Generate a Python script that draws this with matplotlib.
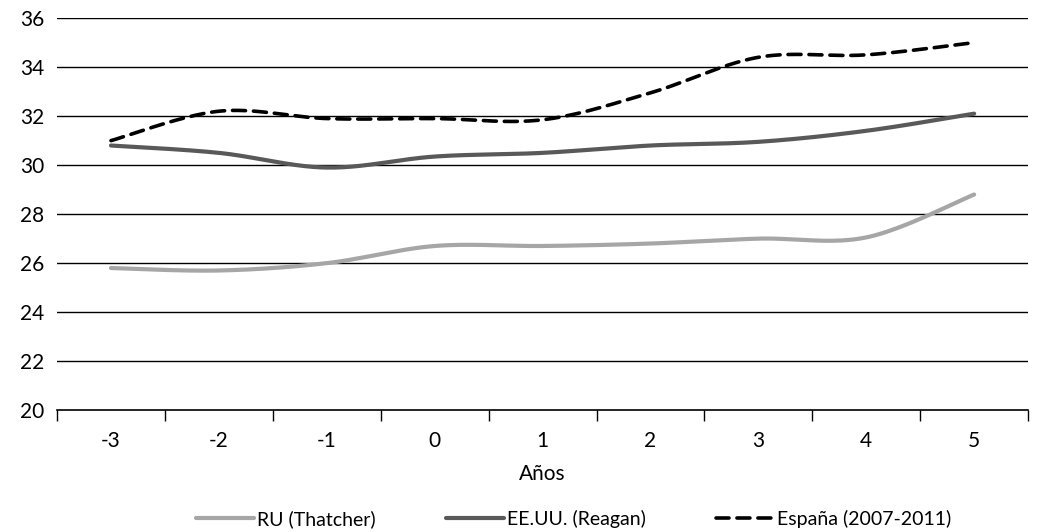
import numpy as np
import matplotlib
matplotlib.use("Agg")
import matplotlib.pyplot as plt

# datos
anios = ["-3", "-2", "-1", "0", "1", "2", "3", "4", "5"]
ru_thatcher = [25.8, 25.7, 26.0, 26.7, 26.7, 26.8, 27.0, 27.05, 28.8]
eeuu_reagan = [30.8, 30.5, 29.9, 30.35, 30.5, 30.8, 30.95, 31.4, 32.1]
espana = [31.0, 32.2, 31.9, 31.9, 31.85, 32.95, 34.4, 34.5, 35.0]

plt.rcParams['font.family'] = ['Lato', 'DejaVu Sans']


def smooth(y, n=40):
    """Curva suavizada tipo Excel (Bezier con puntos de control Catmull-Rom)."""
    y = np.asarray(y, dtype=float)
    x = np.arange(len(y), dtype=float)
    px = np.concatenate([[x[0]], x, [x[-1]]])
    py = np.concatenate([[y[0]], y, [y[-1]]])
    xs, ys = [], []
    t = np.linspace(0, 1, n)
    for i in range(len(y) - 1):
        p0 = np.array([px[i + 1], py[i + 1]])
        p3 = np.array([px[i + 2], py[i + 2]])
        c1 = p0 + (np.array([px[i + 2], py[i + 2]]) - np.array([px[i], py[i]])) / 6
        c2 = p3 - (np.array([px[i + 3], py[i + 3]]) - np.array([px[i + 1], py[i + 1]])) / 6
        pts = ((1 - t) ** 3)[:, None] * p0 + (3 * (1 - t) ** 2 * t)[:, None] * c1 \
            + (3 * (1 - t) * t ** 2)[:, None] * c2 + (t ** 3)[:, None] * p3
        xs.append(pts[:, 0])
        ys.append(pts[:, 1])
    return np.concatenate(xs), np.concatenate(ys)


fig = plt.figure(figsize=(10.43, 5.32), dpi=100)
ax = fig.add_axes([0.0547, 0.229, 0.931, 0.737])

for v in range(22, 37, 2):
    ax.axhline(v, color='black', lw=1.0, zorder=1)

x, y = smooth(ru_thatcher)
ax.plot(x, y, color='#a6a6a6', lw=3.0, solid_capstyle='round', label='RU (Thatcher)', zorder=3)
x, y = smooth(eeuu_reagan)
ax.plot(x, y, color='#595959', lw=3.0, solid_capstyle='round', label='EE.UU. (Reagan)', zorder=3)
x, y = smooth(espana)
ax.plot(x, y, color='black', lw=2.6, dashes=(3.6, 2.2), dash_capstyle='round',
        label='España (2007-2011)', zorder=4)

ax.set_xlim(-0.5, len(anios) - 0.5)
ax.set_ylim(20, 36)
ax.set_yticks(range(20, 37, 2))
ax.tick_params(axis='y', length=0, pad=9, labelsize=15)

ax.set_xticks(np.arange(len(anios)))
ax.set_xticklabels(anios)
ax.set_xticks(np.arange(-0.5, len(anios)), minor=True)
ax.tick_params(axis='x', which='major', length=0, pad=15, labelsize=15)
ax.tick_params(axis='x', which='minor', length=8, width=1.0, color='black')

for s in ['left', 'right', 'top']:
    ax.spines[s].set_visible(False)
ax.spines['bottom'].set_linewidth(1.2)

ax.set_xlabel('Años', fontsize=15, labelpad=9)

ax.legend(loc='center', bbox_to_anchor=(0.55, 0.024), bbox_transform=fig.transFigure,
          ncol=3, frameon=False, fontsize=14, handlelength=3.0, handletextpad=0.15,
          columnspacing=3.6, borderpad=0)

fig.savefig('out.png', dpi=100)
